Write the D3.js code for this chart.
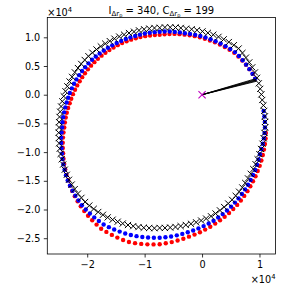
<!DOCTYPE html>
<html><head><meta charset="utf-8">
<script src="https://cdn.jsdelivr.net/npm/d3@7"></script>
<style>body{margin:0;background:#fff}svg{display:block;font-family:"DejaVu Sans",sans-serif}</style>
</head><body><svg id="c" width="281" height="289"></svg>
<script>
// values in units of 1e4
const xTicks = [-2, -1, 0, 1];
const yTicks = [1.0, 0.5, 0.0, -0.5, -1.0, -1.5, -2.0, -2.5];
const titleI = 340, titleC = 199;
const originPt = [0, 0];
const fanEnds = [[0.925,0.277],[0.932,0.265],[0.938,0.255],[0.944,0.245],[0.95,0.235]];

const blackPts = [[1.099,-0.570],[1.098,-0.474],[1.094,-0.378],[1.083,-0.282],[1.069,-0.186],[1.048,-0.092],[1.033,0.005],[1.013,0.102],[0.988,0.198],[0.958,0.294],[0.921,0.388],[0.874,0.477],[0.822,0.563],[0.764,0.646],[0.703,0.727],[0.637,0.805],[0.553,0.863],[0.466,0.917],[0.377,0.965],[0.286,1.008],[0.195,1.045],[0.101,1.077],[0.007,1.103],[-0.088,1.124],[-0.182,1.140],[-0.277,1.150],[-0.370,1.163],[-0.462,1.171],[-0.555,1.174],[-0.647,1.173],[-0.738,1.166],
[-0.829,1.162],[-0.919,1.152],[-1.009,1.140],[-1.098,1.121],[-1.185,1.098],[-1.272,1.074],[-1.358,1.046],[-1.443,1.013],[-1.526,0.976],[-1.607,0.934],[-1.686,0.890],[-1.763,0.841],[-1.838,0.788],[-1.910,0.731],[-1.979,0.671],[-2.043,0.605],[-2.104,0.536],[-2.161,0.464],[-2.215,0.389],[-2.264,0.311],[-2.307,0.230],[-2.346,0.146],[-2.379,0.060],[-2.409,-0.027],[-2.434,-0.116],[-2.455,-0.205],[-2.471,-0.296],[-2.482,-0.387],[-2.490,-0.478],[-2.491,-0.570],
[-2.496,-0.662],[-2.494,-0.755],[-2.489,-0.847],[-2.478,-0.940],[-2.463,-1.032],[-2.444,-1.124],[-2.419,-1.216],[-2.391,-1.306],[-2.356,-1.395],[-2.318,-1.482],[-2.270,-1.565],[-2.218,-1.645],[-2.162,-1.723],[-2.101,-1.797],[-2.037,-1.869],[-1.964,-1.931],[-1.887,-1.989],[-1.808,-2.043],[-1.726,-2.092],[-1.643,-2.137],[-1.557,-2.177],[-1.469,-2.212],[-1.381,-2.244],[-1.290,-2.270],[-1.199,-2.290],[-1.107,-2.306],[-1.015,-2.317],[-0.922,-2.323],[-0.830,-2.325],[-0.738,-2.321],
[-0.646,-2.321],[-0.555,-2.314],[-0.463,-2.304],[-0.373,-2.289],[-0.283,-2.269],[-0.193,-2.249],[-0.103,-2.223],[-0.016,-2.192],[0.071,-2.158],[0.156,-2.118],[0.235,-2.069],[0.312,-2.015],[0.385,-1.957],[0.456,-1.896],[0.523,-1.831],[0.586,-1.762],[0.645,-1.690],[0.701,-1.616],[0.752,-1.538],[0.800,-1.458],[0.848,-1.378],[0.892,-1.296],[0.932,-1.211],[0.967,-1.124],[0.998,-1.035],[1.027,-0.945],[1.053,-0.854],[1.073,-0.760],[1.088,-0.666]];

const redPts = [[0.925,0.277],[0.882,0.366],[0.825,0.445],[0.764,0.522],[0.700,0.595],[0.632,0.664],[0.561,0.729],[0.479,0.782],[0.396,0.830],[0.311,0.873],[0.224,0.912],[0.137,0.945],[0.049,0.975],[-0.039,1.000],[-0.128,1.020],[-0.216,1.035],[-0.305,1.046],[-0.393,1.055],[-0.480,1.059],[-0.567,1.058],[-0.653,1.053],[-0.738,1.043],
[-0.822,1.040],[-0.906,1.032],[-0.990,1.020],[-1.073,1.004],[-1.154,0.983],[-1.235,0.959],[-1.314,0.931],[-1.392,0.899],[-1.468,0.863],[-1.542,0.823],[-1.614,0.779],[-1.683,0.731],[-1.750,0.680],[-1.814,0.625],[-1.875,0.567],[-1.933,0.506],[-1.988,0.442],[-2.039,0.375],[-2.087,0.306],[-2.131,0.235],[-2.174,0.162],[-2.212,0.086],[-2.248,0.010],[-2.278,-0.070],[-2.305,-0.150],[-2.332,-0.231],[-2.356,-0.314],[-2.374,-0.398],[-2.389,-0.484],[-2.399,-0.570],
[-2.413,-0.658],[-2.422,-0.747],[-2.426,-0.837],[-2.425,-0.929],[-2.420,-1.021],[-2.413,-1.114],[-2.401,-1.208],[-2.383,-1.303],[-2.361,-1.397],[-2.332,-1.491],[-2.299,-1.584],[-2.261,-1.676],[-2.216,-1.767],[-2.167,-1.857],[-2.112,-1.944],[-2.051,-2.028],[-1.985,-2.109],[-1.913,-2.187],[-1.837,-2.263],[-1.757,-2.334],[-1.666,-2.390],[-1.571,-2.442],[-1.475,-2.489],[-1.375,-2.530],[-1.273,-2.567],[-1.167,-2.586],[-1.059,-2.599],[-0.952,-2.607],[-0.845,-2.608],[-0.738,-2.605],
[-0.632,-2.589],[-0.528,-2.568],[-0.426,-2.541],[-0.326,-2.510],[-0.228,-2.473],[-0.131,-2.437],[-0.037,-2.396],[0.054,-2.350],[0.143,-2.299],[0.229,-2.245],[0.313,-2.188],[0.393,-2.127],[0.470,-2.061],[0.543,-1.992],[0.612,-1.920],[0.675,-1.843],[0.735,-1.763],[0.790,-1.680],[0.841,-1.595],[0.887,-1.508],[0.931,-1.420],[0.969,-1.330],[1.004,-1.239],[1.033,-1.145],[1.058,-1.051],[1.078,-0.956],[1.095,-0.860],[1.106,-0.764],[1.111,-0.667]];

const bluePts = [[0.925,0.277],[0.878,0.363],[0.825,0.445],[0.768,0.524],[0.707,0.601],[0.642,0.673],[0.574,0.742],[0.492,0.797],[0.409,0.846],[0.324,0.891],[0.236,0.930],[0.149,0.965],[0.060,0.996],[-0.029,1.022],[-0.119,1.043],[-0.209,1.059],[-0.299,1.070],[-0.386,1.085],[-0.475,1.094],[-0.563,1.100],[-0.651,1.100],[-0.738,1.096],
[-0.825,1.090],[-0.911,1.080],[-0.997,1.065],[-1.082,1.046],[-1.165,1.022],[-1.248,0.998],[-1.329,0.970],[-1.409,0.937],[-1.487,0.900],[-1.564,0.860],[-1.639,0.817],[-1.712,0.771],[-1.783,0.720],[-1.851,0.666],[-1.916,0.608],[-1.978,0.546],[-2.035,0.480],[-2.090,0.412],[-2.140,0.341],[-2.188,0.267],[-2.230,0.191],[-2.268,0.111],[-2.303,0.031],[-2.332,-0.052],[-2.358,-0.136],[-2.382,-0.221],[-2.402,-0.307],[-2.419,-0.393],[-2.430,-0.481],[-2.436,-0.570],
[-2.446,-0.659],[-2.452,-0.750],[-2.452,-0.841],[-2.448,-0.933],[-2.438,-1.026],[-2.429,-1.119],[-2.415,-1.214],[-2.394,-1.307],[-2.369,-1.401],[-2.339,-1.495],[-2.300,-1.584],[-2.256,-1.673],[-2.206,-1.759],[-2.152,-1.843],[-2.093,-1.925],[-2.025,-1.999],[-1.953,-2.070],[-1.877,-2.137],[-1.797,-2.200],[-1.714,-2.260],[-1.623,-2.307],[-1.530,-2.349],[-1.435,-2.385],[-1.338,-2.417],[-1.240,-2.444],[-1.141,-2.464],[-1.040,-2.479],[-0.940,-2.488],[-0.839,-2.493],[-0.738,-2.492],
[-0.638,-2.483],[-0.539,-2.469],[-0.440,-2.450],[-0.344,-2.425],[-0.249,-2.396],[-0.155,-2.365],[-0.063,-2.329],[0.027,-2.289],[0.115,-2.244],[0.200,-2.195],[0.281,-2.139],[0.359,-2.080],[0.434,-2.017],[0.505,-1.950],[0.572,-1.880],[0.635,-1.806],[0.694,-1.730],[0.749,-1.650],[0.800,-1.569],[0.846,-1.485],[0.888,-1.399],[0.926,-1.311],[0.957,-1.221],[0.985,-1.130],[1.008,-1.038],[1.035,-0.947],[1.058,-0.854],[1.076,-0.761],[1.088,-0.666],[1.096,-0.570],[1.093,-0.474],[1.085,-0.379],[1.072,-0.283]];

const svg = d3.select("#c");
const L = 47.3, R = 275.5, T = 17.5, B = 254;
const x = d3.scaleLinear().domain([-2.695, 1.279]).range([L, R]);
const y = d3.scaleLinear().domain([-2.775, 1.345]).range([B, T]);

svg.append("defs").append("clipPath").attr("id","pc")
  .append("rect").attr("x",L).attr("y",T).attr("width",R-L).attr("height",B-T);
const plot = svg.append("g").attr("clip-path","url(#pc)");

// red and blue dots
plot.append("g").selectAll("circle").data(redPts).join("circle")
  .attr("cx",d=>x(d[0])).attr("cy",d=>y(d[1])).attr("r",2.2).attr("fill","#ff0000");
plot.append("g").selectAll("circle").data(bluePts).join("circle")
  .attr("cx",d=>x(d[0])).attr("cy",d=>y(d[1])).attr("r",2.2).attr("fill","#0000ff");

// black x markers
const s = 3.1;
plot.append("g").selectAll("path").data(blackPts).join("path")
  .attr("d",d=>{const px=x(d[0]),py=y(d[1]);return `M${px-s},${py-s}L${px+s},${py+s}M${px-s},${py+s}L${px+s},${py-s}`;})
  .attr("stroke","#000").attr("stroke-width",1.0).attr("fill","none");

// fan lines
plot.append("g").selectAll("line").data(fanEnds).join("line")
  .attr("x1",x(originPt[0])).attr("y1",y(originPt[1]))
  .attr("x2",d=>x(d[0])).attr("y2",d=>y(d[1]))
  .attr("stroke","#000").attr("stroke-width",0.9);

// origin marker
const m = 3.6;
plot.append("path")
  .attr("d",()=>{const px=x(originPt[0]),py=y(originPt[1]);return `M${px-m},${py-m}L${px+m},${py+m}M${px-m},${py+m}L${px+m},${py-m}`;})
  .attr("stroke","#bf00bf").attr("stroke-width",1.1).attr("fill","none");

// axes
const fs = 9.7;
const xa = svg.append("g").attr("transform",`translate(0,${B})`)
  .call(d3.axisBottom(x).tickValues(xTicks).tickSize(3.5).tickPadding(3.5).tickFormat(d3.format("d")));
const ya = svg.append("g").attr("transform",`translate(${L},0)`)
  .call(d3.axisLeft(y).tickValues(yTicks).tickSize(3.5).tickPadding(3.5).tickFormat(d3.format(".1f")));
[xa,ya].forEach(a=>{
  a.select(".domain").remove();
  a.selectAll("line").attr("stroke","#000").attr("stroke-width",0.8);
  a.selectAll("text").attr("font-size",fs).attr("font-family","DejaVu Sans").attr("fill","#000");
});

svg.append("rect").attr("x",L).attr("y",T).attr("width",R-L).attr("height",B-T)
  .attr("fill","none").attr("stroke","#000").attr("stroke-width",0.8);

// offset texts
function offText(xp, yp, anchor){
  const t = svg.append("text").attr("x",xp).attr("y",yp).attr("text-anchor",anchor)
    .attr("font-size",fs).attr("fill","#000");
  t.append("tspan").text("×10");
  t.append("tspan").attr("font-size",6.8).attr("dy",-4).text("4");
}
offText(L, 16, "start");
offText(R, 283, "end");

// title
const tt = svg.append("text").attr("x",(L+R)/2).attr("y",13.5).attr("text-anchor","middle")
  .attr("font-size",10).attr("fill","#000");
function sub(t){
  t.append("tspan").attr("font-size",7).attr("dy",2.2).text("Δr");
  t.append("tspan").attr("font-size",5).attr("dy",1.4).text("p");
  return -3.6;
}
tt.append("tspan").text("I");
let back = sub(tt);
tt.append("tspan").attr("dy",back).text(` = ${titleI}, C`);
back = sub(tt);
tt.append("tspan").attr("dy",back).text(` = ${titleC}`);
</script></body></html>
